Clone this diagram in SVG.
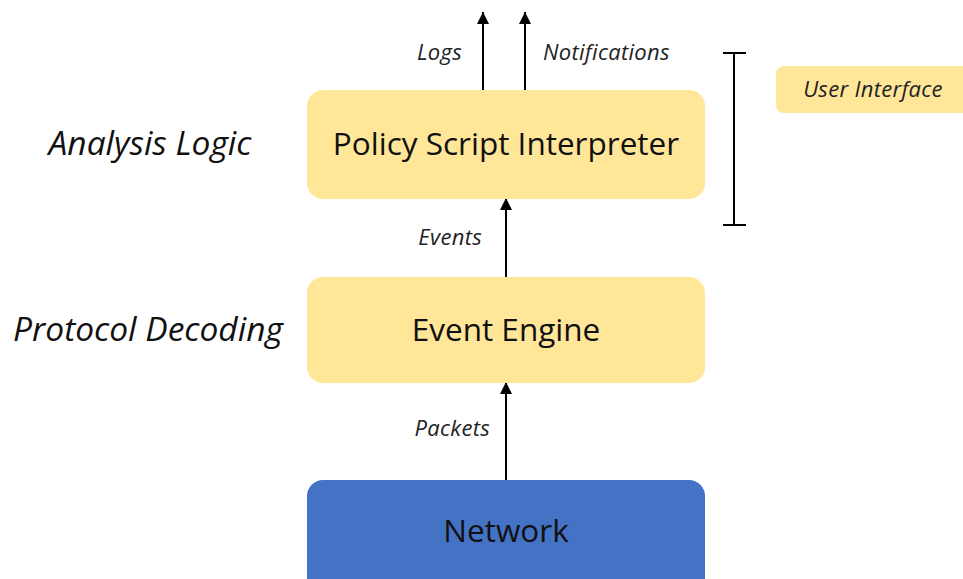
<svg xmlns="http://www.w3.org/2000/svg" width="963" height="579" viewBox="0 0 963 579">
<style>
.box{fill:#FFE699}
.net{fill:#4472C4}
.main{font-family:"Open Sans","Liberation Sans",sans-serif;font-size:31.5px;fill:#111;text-anchor:middle;dominant-baseline:central}
.side{font-family:"Open Sans","Liberation Sans",sans-serif;font-style:italic;font-size:33.5px;fill:#111;text-anchor:middle;dominant-baseline:central}
.lbl{font-family:"Open Sans","Liberation Sans",sans-serif;font-style:italic;font-size:22px;letter-spacing:0.3px;fill:#222;dominant-baseline:central}
.ln{stroke:#000;stroke-width:2;fill:none}
</style>
<defs>
<marker id="ah" viewBox="0 0 12 12" refX="12" refY="6" markerWidth="12" markerHeight="12" markerUnits="userSpaceOnUse" orient="auto">
<path d="M0,0 L12,6 L0,12 Z" fill="#000"/>
</marker>
</defs>
<rect width="963" height="579" fill="#fff"/>
<g id="connectors">
<line class="ln" x1="483" y1="90" x2="483" y2="12" marker-end="url(#ah)"/>
<line class="ln" x1="525" y1="90" x2="525" y2="12" marker-end="url(#ah)"/>
<line class="ln" x1="506" y1="277" x2="506" y2="198" marker-end="url(#ah)"/>
<line class="ln" x1="506" y1="480" x2="506" y2="382" marker-end="url(#ah)"/>
<text class="lbl" x="462" y="51" text-anchor="end">Logs</text>
<text class="lbl" x="543" y="51">Notifications</text>
<text class="lbl" x="482" y="236" text-anchor="end">Events</text>
<text class="lbl" x="490" y="427" text-anchor="end">Packets</text>
</g>
<g id="bracket">
<path class="ln" d="M723,53 H746 M734,53 V225 M723,225 H746"/>
</g>
<g id="policy">
<rect class="box" x="307" y="90" width="398" height="109" rx="16"/>
<text class="main" x="506" y="142">Policy Script Interpreter</text>
</g>
<g id="event-engine">
<rect class="box" x="307" y="277" width="398" height="106" rx="16"/>
<text class="main" x="506" y="328">Event Engine</text>
</g>
<g id="network">
<rect class="net" x="307" y="480" width="398" height="120" rx="16"/>
<text class="main" x="506" y="529">Network</text>
</g>
<g id="user-interface">
<rect class="box" x="776" y="66" width="200" height="47" rx="8"/>
<text class="lbl" x="873" y="88" text-anchor="middle">User Interface</text>
</g>
<g id="analysis-logic">
<text class="side" x="150" y="142">Analysis Logic</text>
</g>
<g id="protocol-decoding">
<text class="side" x="148" y="328">Protocol Decoding</text>
</g>
</svg>
